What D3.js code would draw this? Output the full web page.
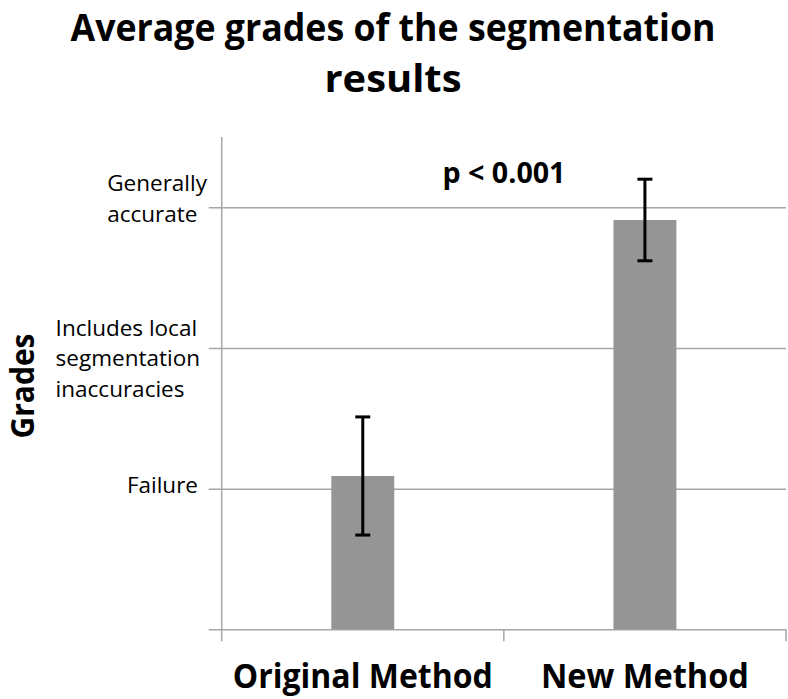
<!DOCTYPE html>
<html>
<head>
<meta charset="utf-8">
<script src="https://cdn.jsdelivr.net/npm/d3@7"></script>
<style>
  body { margin: 0; background: #fff; }
  text { font-family: "Open Sans", "DejaVu Sans", sans-serif; fill: #000; }
</style>
</head>
<body>
<div id="chart"></div>
<script>
const categories = ["Original Method", "New Method"];
const means = [1.09, 2.91];
const errors = [0.42, 0.29];
const gradeValues = [0, 1, 2, 3];
const gradeLabels = [[], ["Failure"], ["Includes local", "segmentation", "inaccuracies"], ["Generally", "accurate"]];
const titleLines = ["Average grades of the segmentation", "results"];
const pLabel = "p < 0.001";

const W = 788, H = 699;
const plot = {left: 221.7, right: 786, top: 137, bottom: 629.3};
const gridColor = "#a6a6a6";

const svg = d3.select("#chart").append("svg")
  .attr("width", W)
  .attr("height", H);

const y = d3.scaleLinear().domain([0, 3.5]).range([plot.bottom, plot.top]);
const x = d3.scaleBand().domain(categories).range([plot.left, plot.right]).padding(0);

// gridlines via axis, ticks stick out 13px to the left
svg.append("g")
  .attr("transform", `translate(${plot.left},0)`)
  .call(d3.axisLeft(y).tickValues(gradeValues).tickSize(-(plot.right - plot.left)).tickFormat(""))
  .call(g => g.select(".domain").remove())
  .call(g => g.selectAll(".tick line")
    .attr("x1", -13)
    .attr("stroke", gridColor)
    .attr("stroke-width", 1.5));

// y axis line
svg.append("line")
  .attr("x1", plot.left).attr("x2", plot.left)
  .attr("y1", plot.top).attr("y2", plot.bottom + 12)
  .attr("stroke", gridColor).attr("stroke-width", 1.5);

// category boundary ticks
const bounds = categories.map(c => x(c)).concat([x.range()[1]]);
svg.selectAll(".xtick")
  .data(bounds.slice(1))
  .enter().append("line")
  .attr("x1", d => d).attr("x2", d => d)
  .attr("y1", plot.bottom).attr("y2", plot.bottom + 12)
  .attr("stroke", gridColor).attr("stroke-width", 1.5);

// bars
const barW = x.bandwidth() * 0.223;
svg.selectAll(".bar")
  .data(categories)
  .enter().append("rect")
  .attr("x", d => x(d) + x.bandwidth() / 2 - barW / 2)
  .attr("y", (d, i) => y(means[i]))
  .attr("width", barW)
  .attr("height", (d, i) => y(0) - y(means[i]))
  .attr("fill", "#959595");

// error bars
const err = svg.selectAll(".err")
  .data(categories)
  .enter().append("g");
err.append("line")
  .attr("x1", d => x(d) + x.bandwidth() / 2)
  .attr("x2", d => x(d) + x.bandwidth() / 2)
  .attr("y1", (d, i) => y(means[i] + errors[i]))
  .attr("y2", (d, i) => y(means[i] - errors[i]))
  .attr("stroke", "#000").attr("stroke-width", 3);
[1, -1].forEach(s => {
  err.append("line")
    .attr("x1", d => x(d) + x.bandwidth() / 2 - 7.5)
    .attr("x2", d => x(d) + x.bandwidth() / 2 + 7.5)
    .attr("y1", (d, i) => y(means[i] + s * errors[i]))
    .attr("y2", (d, i) => y(means[i] + s * errors[i]))
    .attr("stroke", "#000").attr("stroke-width", 3);
});

// y category labels (left-aligned blocks, right edge near the axis)
const labelRight = [0, 198, 200, 207];
const labelDy = [0, 4, -12, -16];
gradeValues.forEach((v, i) => {
  const lines = gradeLabels[i];
  if (!lines.length) return;
  const t = svg.append("text")
    .attr("font-size", 22.5);
  lines.forEach((s, k) => {
    t.append("tspan")
      .attr("x", 0)
      .attr("y", y(v) + labelDy[i] + k * 30.5)
      .text(s);
  });
  const maxW = d3.max(t.selectAll("tspan").nodes(), n => n.getComputedTextLength());
  t.attr("transform", `translate(${labelRight[i] - maxW},0)`);
});

// x labels
svg.selectAll(".xlabel")
  .data(categories)
  .enter().append("text")
  .attr("x", d => x(d) + x.bandwidth() / 2)
  .attr("y", 688)
  .attr("text-anchor", "middle")
  .attr("font-size", 34)
  .attr("font-weight", "bold")
  .attr("textLength", (d, i) => [260, 208][i])
  .attr("lengthAdjust", "spacingAndGlyphs")
  .text(d => d);

// y title
svg.append("text")
  .attr("transform", "translate(34,386) rotate(-90)")
  .attr("text-anchor", "middle")
  .attr("font-size", 32)
  .attr("font-weight", "bold")
  .attr("textLength", 105)
  .attr("lengthAdjust", "spacingAndGlyphs")
  .text("Grades");

// chart title
svg.selectAll(".title")
  .data(titleLines)
  .enter().append("text")
  .attr("x", 393)
  .attr("y", (d, i) => 41 + i * 51)
  .attr("text-anchor", "middle")
  .attr("font-size", 37)
  .attr("font-weight", "bold")
  .attr("textLength", (d, i) => [645, 137][i])
  .attr("lengthAdjust", "spacingAndGlyphs")
  .text(d => d);

// significance note
svg.append("text")
  .attr("x", 504)
  .attr("y", 183)
  .attr("text-anchor", "middle")
  .attr("font-size", 28)
  .attr("font-weight", "bold")
  .attr("textLength", 123)
  .attr("lengthAdjust", "spacingAndGlyphs")
  .text(pLabel);
</script>
</body>
</html>
